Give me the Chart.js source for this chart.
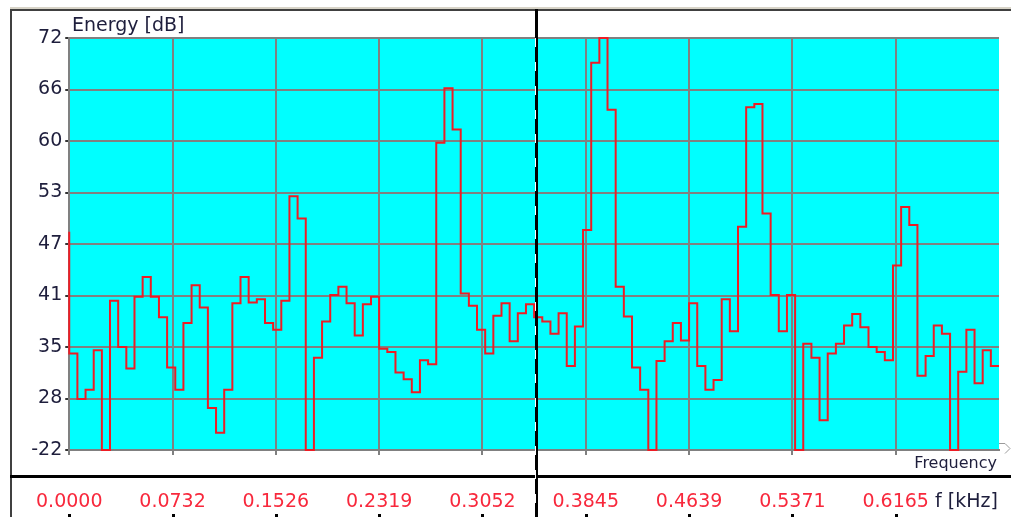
<!DOCTYPE html>
<html>
<head>
<meta charset="utf-8">
<script src="https://cdn.jsdelivr.net/npm/chart.js@4.4.0/dist/chart.umd.min.js"></script>
<style>
  body { margin: 0; background: #fff; }
  canvas { display: block; }
</style>
</head>
<body>
<canvas id="myChart" width="1011" height="517"></canvas>
<script>

// spectrum: one value per frequency bin
const binWidth = 0.0061035;   // kHz
const binCount = 114;
const energy = [
  33.7, 28.2, 29.3, 34.1, 22.0, 40.1, 34.5, 31.9, 40.6, 43.0,
  40.6, 38.1, 32.0, 29.3, 37.4, 42.0, 39.3, 27.1, 24.1, 29.3,
  39.8, 43.0, 39.9, 40.3, 37.4, 36.6, 40.1, 52.8, 50.1, 22.0,
  33.2, 37.6, 40.8, 41.8, 39.8, 35.9, 39.7, 40.6, 34.3, 33.9,
  31.4, 30.6, 29.0, 32.9, 32.4, 59.3, 65.9, 60.9, 41.0, 39.5,
  36.6, 33.7, 38.3, 39.8, 35.2, 38.6, 39.7, 38.1, 37.6, 36.1,
  38.6, 32.2, 37.0, 48.7, 69.0, 72.0, 63.3, 41.8, 38.2, 32.0,
  29.3, 22.0, 32.8, 35.2, 37.4, 35.3, 39.8, 32.2, 29.3, 30.5,
  40.3, 36.4, 49.1, 63.6, 64.0, 50.7, 40.8, 36.4, 40.8, 22.0,
  34.9, 33.2, 25.6, 33.7, 34.9, 37.1, 38.5, 36.9, 34.5, 33.9,
  32.9, 44.4, 51.5, 49.3, 31.0, 33.4, 37.1, 36.1, 22.0, 31.5,
  36.6, 30.1, 34.1, 32.2
];
const edgeLevel = 48.5;      // level coming in at the left edge
const cursorBin = 57.25;     // position of the black cursor

const yTickValues = [22, 28.25, 34.5, 40.75, 47, 53.25, 59.5, 65.75, 72];
const yTickLabels = ['-22', '28', '35', '41', '47', '53', '60', '66', '72'];
const xTickLabels = ['0.0000', '0.0732', '0.1526', '0.2319', '0.3052', '0.3845', '0.4639', '0.5371', '0.6165'];

const xMax = binCount * binWidth;
const fontFam = '"DejaVu Sans", Verdana, sans-serif';
const navy = '#1e1e3c';
const labelRed = '#f8283c';

let points = [{x: 0, y: edgeLevel}];
energy.forEach((v, i) => points.push({x: i * binWidth, y: v}));
points.push({x: xMax, y: energy[energy.length - 1]});

const frame = {
  id: 'frame',
  beforeDraw(chart) {
    const {ctx, chartArea: a} = chart;
    ctx.save();
    ctx.fillStyle = '#00ffff';
    ctx.fillRect(a.left, a.top, a.right - a.left, a.bottom - a.top);
    ctx.restore();
  },
  afterDraw(chart) {
    const {ctx, chartArea: a} = chart;
    const W = chart.width, H = chart.height;
    ctx.save();

    // window frame
    ctx.fillStyle = '#d8d4c8';
    ctx.fillRect(10, 7, W - 10, 2);
    ctx.fillStyle = '#404040';
    ctx.fillRect(10, 9, W - 10, 2);
    ctx.fillRect(10, 9, 2, H - 9);
    ctx.fillStyle = '#000';
    ctx.fillRect(10, 475, W - 10, 3);

    // small marks under the labels
    for (let k = 0; k < xTickLabels.length; k++) {
      let px = chart.scales.x.getPixelForValue(k * xMax / 9);
      ctx.fillRect(Math.round(px) - 1, 514, 3, 3);
    }

    // arrow at the end of the axis
    ctx.strokeStyle = '#9a9a9a';
    ctx.lineWidth = 1;
    ctx.beginPath();
    ctx.moveTo(a.right, a.bottom - 6.5);
    ctx.lineTo(a.right + 6, a.bottom - 6.5);
    ctx.lineTo(a.right + 11, a.bottom - 1.5);
    ctx.lineTo(a.right + 6, a.bottom + 3.5);
    ctx.stroke();

    // texts
    ctx.fillStyle = navy;
    ctx.textBaseline = 'middle';
    ctx.font = '19px ' + fontFam;
    ctx.textAlign = 'left';
    ctx.fillText('Energy [dB]', 72, 26);
    ctx.fillText('f [kHz]', 935, 502);
    ctx.font = '16px ' + fontFam;
    ctx.textAlign = 'right';
    ctx.fillText('Frequency', 997, 464);

    // cursor line
    let cx = Math.round(chart.scales.x.getPixelForValue(cursorBin * binWidth));
    ctx.fillStyle = '#000';
    ctx.fillRect(cx - 1, 9, 3, H - 9);
    ctx.strokeStyle = '#fff';
    ctx.setLineDash([9, 15]);
    ctx.beginPath();
    ctx.moveTo(cx - 0.5, a.top);
    ctx.lineTo(cx - 0.5, H);
    ctx.stroke();

    ctx.restore();
  }
};

let ctx = document.getElementById('myChart');

const myChart = new Chart(ctx, {
  type: 'line',
  data: {
    datasets: [{
      label: 'Energy',
      data: points,
      stepped: true,
      borderColor: '#ee1c24',
      borderWidth: 2,
      pointRadius: 0,
      fill: false,
      clip: 3
    }]
  },
  options: {
    responsive: false,
    animation: false,
    events: [],
    layout: { padding: { top: 38, right: 12, left: 0, bottom: 0 } },
    plugins: {
      legend: { display: false },
      tooltip: { enabled: false }
    },
    scales: {
      x: {
        type: 'linear',
        min: 0,
        max: xMax,
        afterFit: s => { s.height = 67; },
        afterBuildTicks: s => { s.ticks = xTickLabels.map((t, k) => ({value: k * xMax / 9})); },
        grid: { color: '#808080', lineWidth: 2, tickLength: 5, tickColor: '#808080' },
        border: { color: '#808080', width: 2 },
        ticks: {
          autoSkip: false,
          maxRotation: 0,
          padding: 36,
          color: labelRed,
          font: { family: fontFam, size: 19 },
          callback: (v, i) => xTickLabels[i]
        }
      },
      y: {
        min: 22,
        max: 72,
        afterFit: s => { s.width = 69; },
        afterBuildTicks: s => { s.ticks = yTickValues.map(v => ({value: v})); },
        grid: { color: '#808080', lineWidth: 2, tickLength: 4, tickColor: '#333' },
        border: { color: '#808080', width: 2 },
        ticks: {
          padding: 3,
          color: navy,
          font: { family: fontFam, size: 19 },
          callback: (v, i) => yTickLabels[i]
        }
      }
    }
  },
  plugins: [frame]
});
</script>
</body>
</html>
